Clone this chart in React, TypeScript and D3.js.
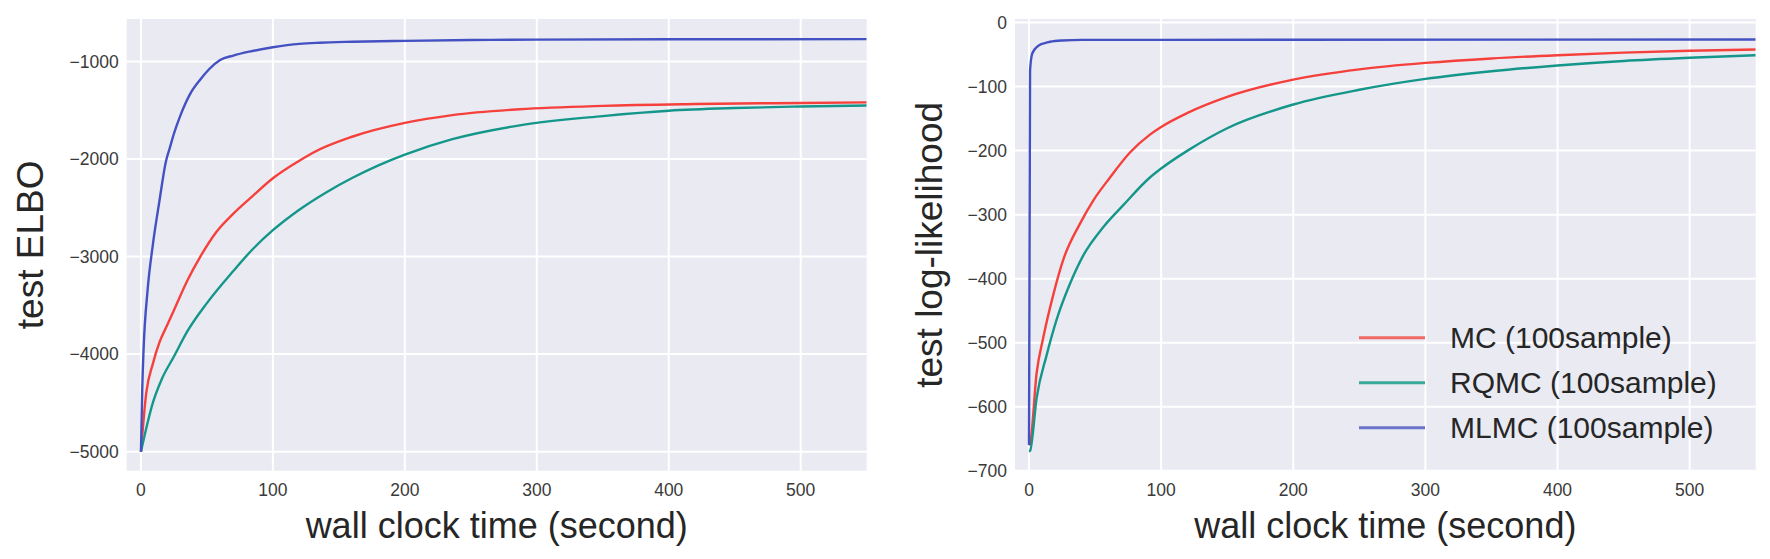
import React from "react";
import * as d3 from "d3";

// ---------- data ----------
const seriesNames = ["MC (100sample)", "RQMC (100sample)", "MLMC (100sample)"];
const lineColors = ["#f5403c", "#14978a", "#4451c2"];
const legendColors = ["#ef6a64", "#3aa99a", "#6a74c8"];

// left panel: test ELBO
const elboMC_x = [0, 4, 9, 14, 20, 25, 35, 45, 57, 70, 85, 100, 120, 130, 160, 200, 236, 287, 350, 420, 480, 550];
const elboMC_y = [-5000, -4400, -4100, -3880, -3700, -3550, -3250, -3000, -2750, -2560, -2375, -2198, -2018, -1938, -1772, -1630, -1550, -1490, -1455, -1437, -1428, -1420];
const elboRQMC_x = [0, 9, 16, 25, 35, 50, 70, 85, 100, 120, 140, 160, 180, 200, 236, 287, 350, 400, 450, 500, 550];
const elboRQMC_y = [-5000, -4500, -4250, -4025, -3770, -3477, -3148, -2920, -2730, -2520, -2345, -2195, -2065, -1955, -1797, -1655, -1560, -1505, -1478, -1462, -1452];
const elboMLMC_x = [0, 1, 2, 5, 9, 14, 19, 22, 25, 30, 37, 45, 52, 60, 70, 82, 100, 120, 135, 160, 200, 250, 300, 400, 550];
const elboMLMC_y = [-5000, -4350, -3950, -3350, -2880, -2430, -2020, -1880, -1740, -1550, -1340, -1185, -1075, -985, -940, -900, -855, -820, -808, -798, -789, -781, -776, -773, -771];

// right panel: test log-likelihood
const llMC_x = [0, 0.8, 5.8, 10.8, 18.4, 26, 38.6, 48.6, 61.3, 76.4, 91.5, 100, 120, 150, 200, 250, 300, 350, 400, 450, 500, 550];
const llMC_y = [-660, -658, -547, -492, -425, -370, -314, -278, -242, -203, -175, -163, -141, -116, -89, -73, -63, -56, -51, -47, -44, -42];
const llRQMC_x = [0, 0.8, 5.8, 13.4, 20.9, 31, 41, 56, 71, 91.5, 100, 120, 150, 200, 250, 300, 350, 400, 450, 500, 550];
const llRQMC_y = [-670, -669, -586, -519, -464, -408, -364, -320, -286, -242, -228, -200, -165, -128, -105, -88, -76, -67, -60, -55, -51];
const llMLMC_x = [0, 0.8, 2, 3.3, 5, 8, 12, 16, 25, 40, 100, 200, 550];
const llMLMC_y = [-660, -75, -52, -45, -40, -35, -32, -30, -28, -27, -27, -26.8, -26.5];

const xTicks = [0, 100, 200, 300, 400, 500];
const elboTicks = [-5000, -4000, -3000, -2000, -1000];
const llTicks = [-700, -600, -500, -400, -300, -200, -100, 0];

const FONT = "'Liberation Sans', Arial, Helvetica, sans-serif";

type Series = { xs: number[]; ys: number[]; color: string };

function Panel(props: {
  left: number;
  right: number;
  top: number;
  bottom: number;
  xDomain: [number, number];
  yDomain: [number, number];
  yTicks: number[];
  yLabel: string;
  yLabelX: number;
  series: Series[];
  legend?: boolean;
}) {
  const { left, right, top, bottom, xDomain, yDomain, yTicks, yLabel, yLabelX, series, legend } = props;
  const x = d3.scaleLinear().domain(xDomain).range([left, right]);
  const y = d3.scaleLinear().domain(yDomain).range([bottom, top]);
  const line = d3
    .line<[number, number]>()
    .x((d) => x(d[0]))
    .y((d) => y(d[1]))
    .curve(d3.curveMonotoneX);
  const fmt = (v: number) => (v < 0 ? "\u2212" + Math.abs(v) : String(v));
  const clipId = "clip" + Math.round(left);
  return (
    <g>
      <defs>
        <clipPath id={clipId}>
          <rect x={left} y={top} width={right - left} height={bottom - top} />
        </clipPath>
      </defs>
      <rect x={left} y={top} width={right - left} height={bottom - top} fill="#EAEAF2" />
      {xTicks.map((t) => (
        <line key={"gx" + t} x1={x(t)} x2={x(t)} y1={top} y2={bottom} stroke="#fff" strokeWidth={2} />
      ))}
      {yTicks.map((t) => (
        <line key={"gy" + t} x1={left} x2={right} y1={y(t)} y2={y(t)} stroke="#fff" strokeWidth={2} />
      ))}
      <g clipPath={`url(#${clipId})`}>
        {series.map((s, i) => (
          <path
            key={i}
            d={line(s.xs.map((v, j) => [v, s.ys[j]] as [number, number])) || ""}
            fill="none"
            stroke={s.color}
            strokeWidth={2.4}
            strokeLinejoin="round"
          />
        ))}
      </g>
      {xTicks.map((t) => (
        <text
          key={"tx" + t}
          x={x(t)}
          y={bottom + 25}
          textAnchor="middle"
          fontFamily={FONT}
          fontSize={17.5}
          fill="#3a3a3a"
        >
          {t}
        </text>
      ))}
      {yTicks.map((t) => (
        <text
          key={"ty" + t}
          x={left - 8}
          y={y(t)}
          dy="0.35em"
          textAnchor="end"
          fontFamily={FONT}
          fontSize={17.5}
          fill="#3a3a3a"
        >
          {fmt(t)}
        </text>
      ))}
      <text
        x={(left + right) / 2}
        y={538}
        textAnchor="middle"
        fontFamily={FONT}
        fontSize={36}
        fill="#262626"
      >
        wall clock time (second)
      </text>
      <text
        transform={`translate(${yLabelX},${(top + bottom) / 2}) rotate(-90)`}
        textAnchor="middle"
        fontFamily={FONT}
        fontSize={37}
        fill="#262626"
      >
        {yLabel}
      </text>
      {legend &&
        seriesNames.map((name, i) => {
          const ly = 337.7 + i * 45;
          return (
            <g key={name}>
              <line x1={1359} x2={1425} y1={ly} y2={ly} stroke={legendColors[i]} strokeWidth={3} />
              <text x={1450} y={ly} dy="0.35em" fontFamily={FONT} fontSize={30} fill="#262626">
                {name}
              </text>
            </g>
          );
        })}
    </g>
  );
}

export default function App() {
  const top = 19;
  const bottom = 470.7;
  const leftSeries: Series[] = [
    { xs: elboMC_x, ys: elboMC_y, color: lineColors[0] },
    { xs: elboRQMC_x, ys: elboRQMC_y, color: lineColors[1] },
    { xs: elboMLMC_x, ys: elboMLMC_y, color: lineColors[2] },
  ];
  const rightSeries: Series[] = [
    { xs: llMC_x, ys: llMC_y, color: lineColors[0] },
    { xs: llRQMC_x, ys: llRQMC_y, color: lineColors[1] },
    { xs: llMLMC_x, ys: llMLMC_y, color: lineColors[2] },
  ];
  return (
    <svg
      width={1770}
      height={559}
      style={{ position: "absolute", left: 0, top: 0, background: "#fff" }}
    >
      <Panel
        left={126.7}
        right={866.7}
        top={top}
        bottom={bottom}
        xDomain={[-10.8, 550]}
        yDomain={[-5195, -565]}
        yTicks={elboTicks}
        yLabel="test ELBO"
        yLabelX={42.5}
        series={leftSeries}
      />
      <Panel
        left={1015}
        right={1755.7}
        top={top}
        bottom={bottom}
        xDomain={[-10.6, 550]}
        yDomain={[-700, 5.6]}
        yTicks={llTicks}
        yLabel="test log-likelihood"
        yLabelX={941.5}
        series={rightSeries}
        legend
      />
    </svg>
  );
}
